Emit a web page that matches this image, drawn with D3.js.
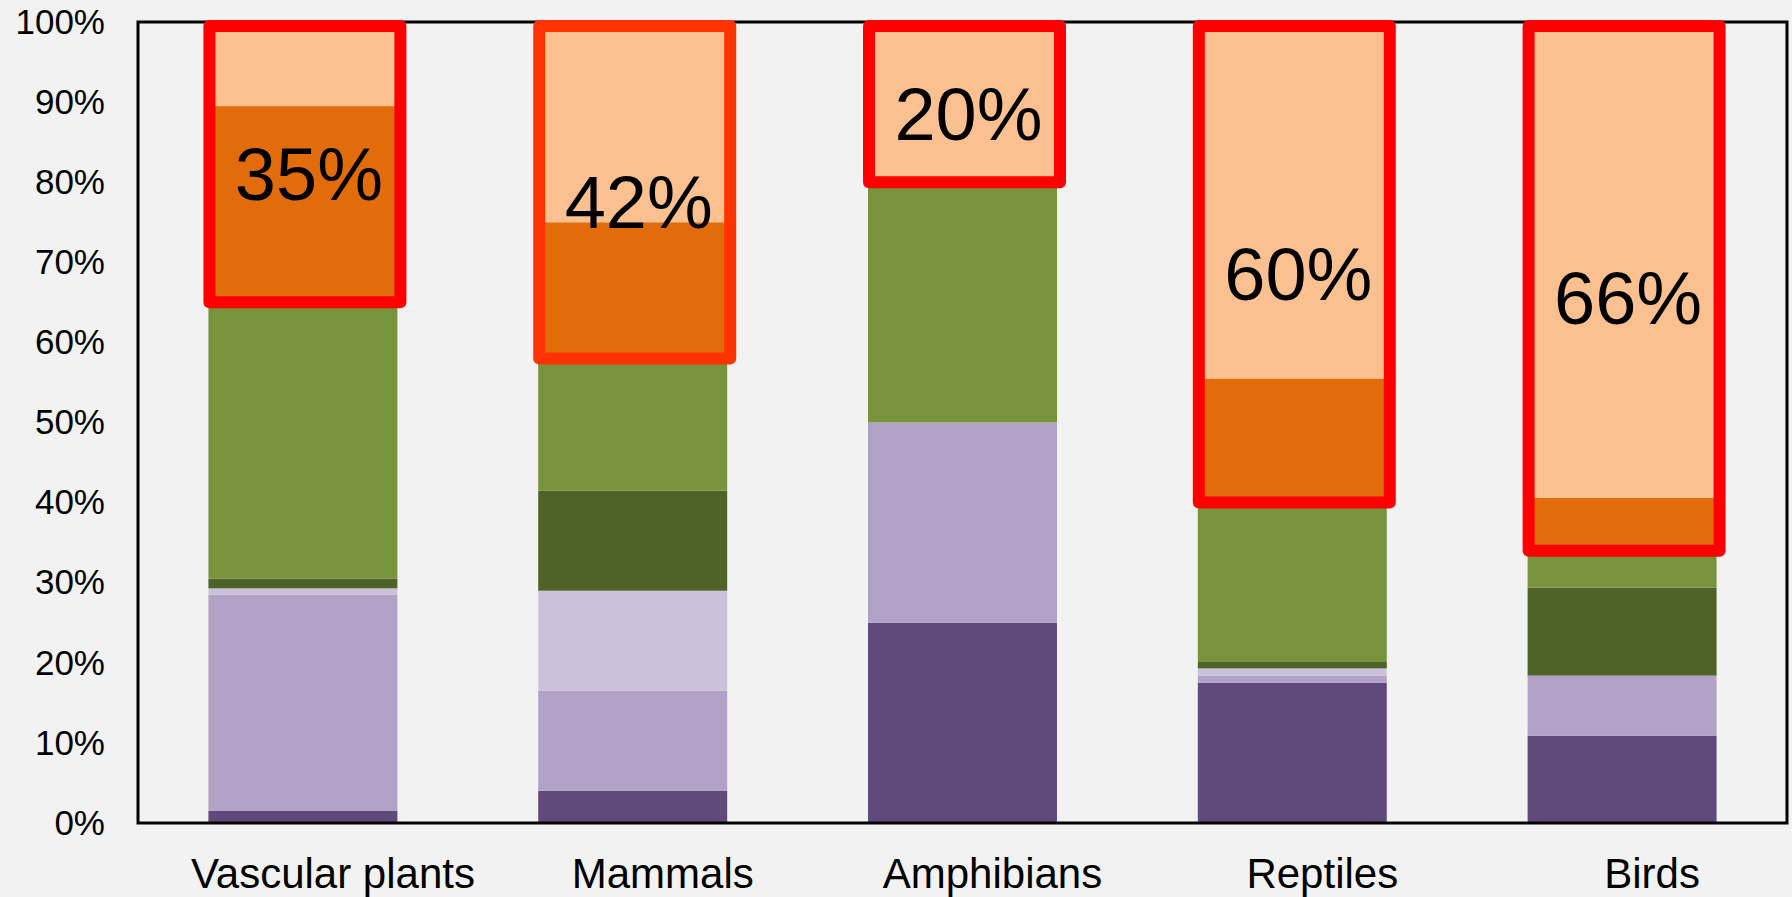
<!DOCTYPE html>
<html>
<head>
<meta charset="utf-8">
<script src="https://cdn.jsdelivr.net/npm/d3@7"></script>
<style>
  html, body { margin: 0; padding: 0; background: #f2f2f2; }
  svg { display: block; font-family: "Liberation Sans", Arial, sans-serif; }
</style>
</head>
<body>
<svg id="chart" width="1792" height="897"></svg>
<script>
// Taxonomic groups along the x axis
const categories = ["Vascular plants", "Mammals", "Amphibians", "Reptiles", "Birds"];

// Stacked shares (percent), bottom segment first
const purpleDark  = [1.5, 4.0, 25.0, 17.5, 10.9];
const purpleMid   = [27.0, 12.5, 25.0, 0.9, 7.5];
const purpleLight = [0.8, 12.5, 0.0, 0.9, 0.0];
const greenDark   = [1.2, 12.5, 0.0, 0.8, 11.0];
const greenMid    = [34.5, 16.5, 30.0, 19.9, 4.6];
const orangeDark  = [24.5, 17.0, 0.0, 15.5, 6.6];
const orangeLight = [10.5, 25.0, 20.0, 44.5, 59.4];

// Y axis tick values (percent)
const yTicks = [0, 10, 20, 30, 40, 50, 60, 70, 80, 90, 100];

const seriesKeys = ["purpleDark", "purpleMid", "purpleLight", "greenDark", "greenMid", "orangeDark", "orangeLight"];
const seriesColors = {
  purpleDark: "#604a7b",
  purpleMid: "#b2a2c7",
  purpleLight: "#ccc1da",
  greenDark: "#4f6228",
  greenMid: "#77933c",
  orangeDark: "#e36c0a",
  orangeLight: "#fac090"
};
const seriesValues = { purpleDark, purpleMid, purpleLight, greenDark, greenMid, orangeDark, orangeLight };

const rows = categories.map((c, i) => {
  const r = { category: c };
  seriesKeys.forEach(k => { r[k] = seriesValues[k][i]; });
  return r;
});

const svg = d3.select("#chart");
const W = 1792, H = 897;
const plot = { left: 138, right: 1787, top: 22, bottom: 823 };

svg.append("rect").attr("width", W).attr("height", H).attr("fill", "#f2f2f2");

const x = d3.scaleBand()
  .domain(categories)
  .range([plot.left, plot.right])
  .paddingInner(0.427)
  .paddingOuter(0.2135);

const y = d3.scaleLinear().domain([0, 100]).range([plot.bottom, plot.top]);

const stacked = d3.stack().keys(seriesKeys)(rows);

// Stacked bars
const layers = svg.append("g").selectAll("g")
  .data(stacked)
  .join("g")
  .attr("fill", d => seriesColors[d.key]);

layers.selectAll("rect")
  .data(d => d)
  .join("rect")
  .attr("x", d => x(d.data.category))
  .attr("width", x.bandwidth())
  .attr("y", d => y(d[1]))
  .attr("height", d => Math.max(0, y(d[0]) - y(d[1])));

// Plot frame
svg.append("rect")
  .attr("x", plot.left)
  .attr("y", plot.top)
  .attr("width", plot.right - plot.left)
  .attr("height", plot.bottom - plot.top)
  .attr("fill", "none")
  .attr("stroke", "#000")
  .attr("stroke-width", 3);

// Y axis labels
const yAxis = d3.axisLeft(y)
  .tickValues(yTicks)
  .tickFormat(d => d + "%")
  .tickSize(0)
  .tickPadding(33);

svg.append("g")
  .attr("transform", `translate(${plot.left},0)`)
  .call(yAxis)
  .call(g => g.select(".domain").remove())
  .call(g => g.selectAll("text")
    .attr("font-size", 35)
    .attr("fill", "#000")
    .attr("font-family", "'Liberation Sans', Arial, sans-serif"));

// Category labels, sitting a little right of each bar centre
const xAxis = d3.axisBottom(x).tickSize(0).tickPadding(0);
svg.append("g")
  .attr("transform", `translate(30,${plot.bottom})`)
  .call(xAxis)
  .call(g => g.select(".domain").remove())
  .call(g => g.selectAll("text")
    .attr("font-size", 42)
    .attr("fill", "#000")
    .attr("dy", null)
    .attr("y", 65)
    .attr("font-family", "'Liberation Sans', Arial, sans-serif"));

// Highlight boxes around the orange share of each bar
const orangeBase = stacked.find(s => s.key === "orangeDark");
const highlight = rows.map((r, i) => ({
  category: r.category,
  low: orangeBase[i][0],
  share: r.orangeDark + r.orangeLight
}));
const fmt = d3.format(".0f");

const boxes = svg.append("g");
boxes.selectAll("rect")
  .data(highlight)
  .join("rect")
  .attr("x", d => x(d.category) + 1)
  .attr("width", x.bandwidth() + 2)
  .attr("y", y(100) + 4)
  .attr("height", d => y(d.low) - (y(100) + 4))
  .attr("fill", "none")
  .attr("stroke", d => d.category === "Mammals" ? "#ff3300" : "#ff0000")
  .attr("stroke-width", 12)
  .attr("stroke-linejoin", "round");

boxes.selectAll("text")
  .data(highlight)
  .join("text")
  .attr("x", d => x(d.category) + x.bandwidth() / 2 + 6)
  .attr("y", d => y(d.low + d.share / 2) + 12)
  .attr("text-anchor", "middle")
  .attr("dominant-baseline", "central")
  .attr("font-size", 74)
  .attr("fill", "#000")
  .text(d => fmt(d.share) + "%");
</script>
</body>
</html>
